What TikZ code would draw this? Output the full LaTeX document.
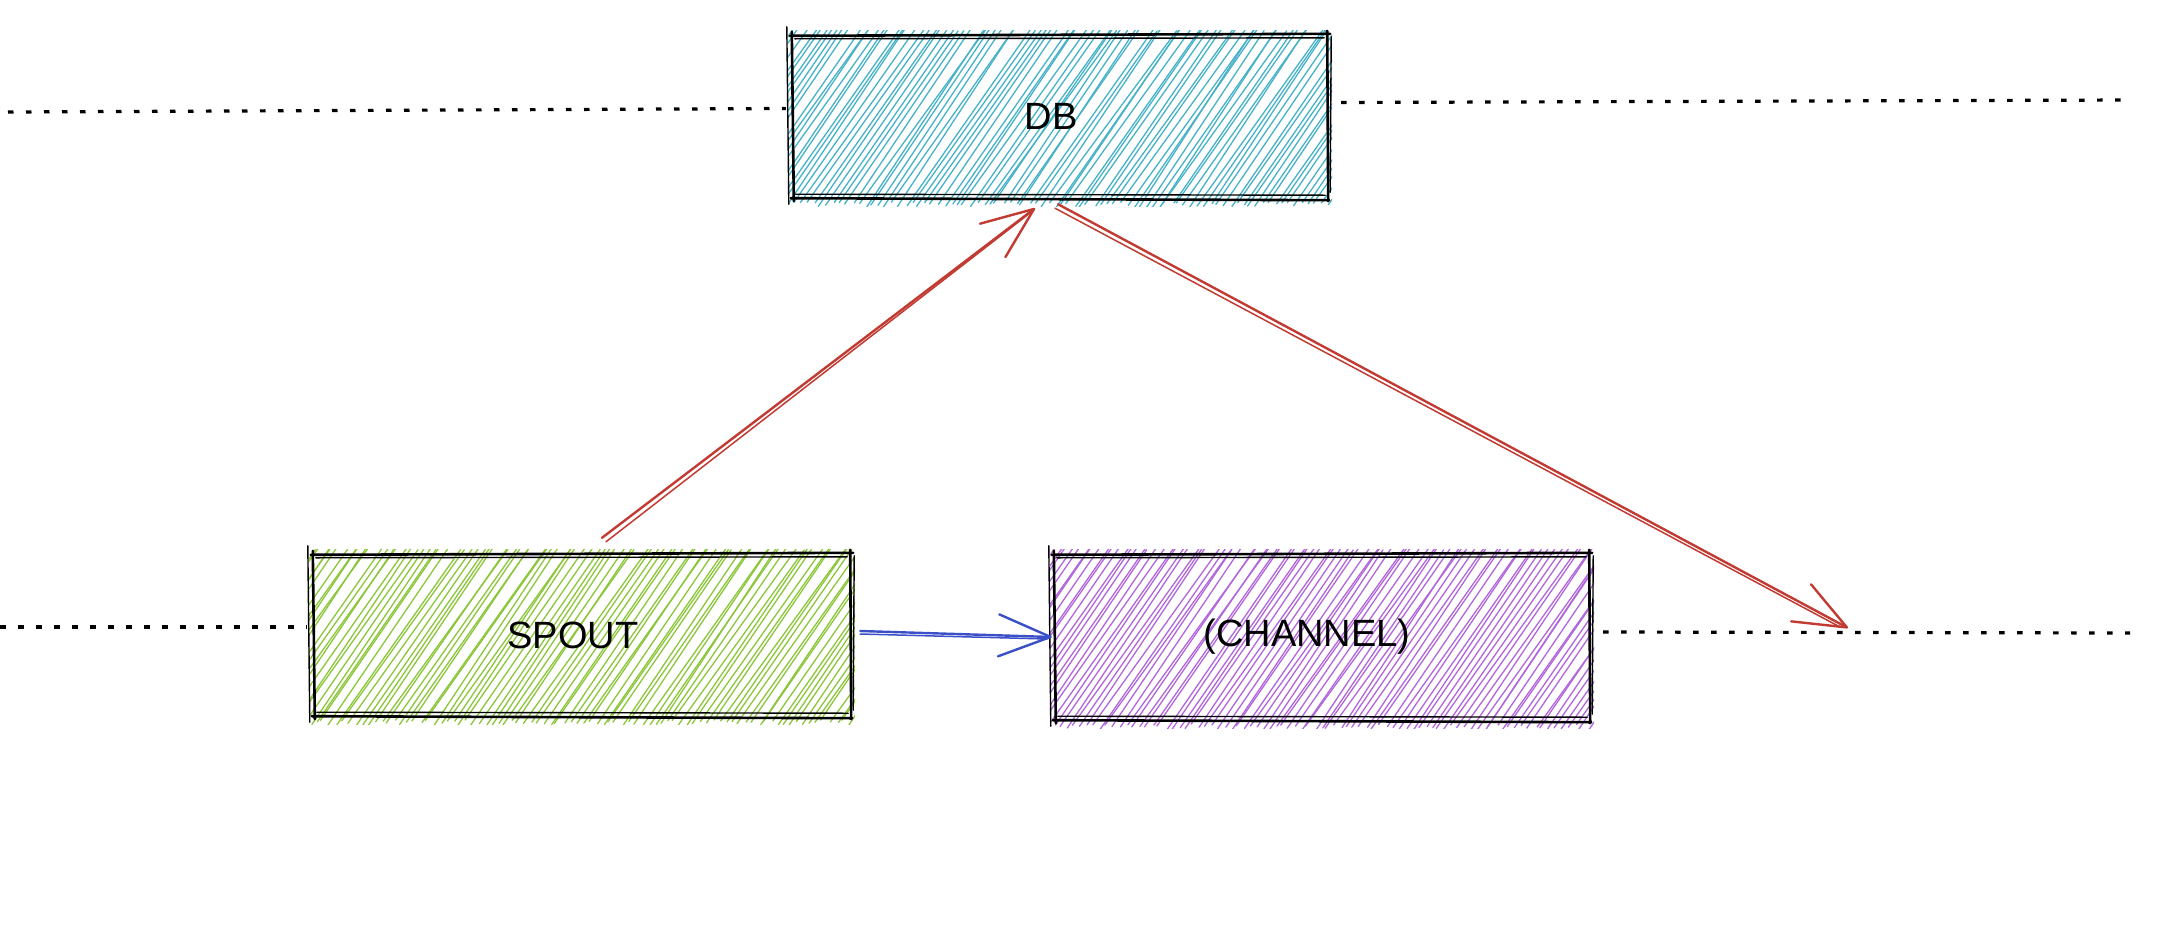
\documentclass[tikz,border=0pt]{standalone}
\usepackage{fontspec}
\setmainfont{Liberation Sans}
\usetikzlibrary{arrows.meta,calc}
\definecolor{dbfill}{HTML}{47B2C7}
\definecolor{spoutfill}{HTML}{8CC63A}
\definecolor{chanfill}{HTML}{B266DB}
\definecolor{redarrow}{HTML}{C23B32}
\definecolor{bluearrow}{HTML}{3B50C8}

\newcommand\hatchfill[5]{%
 \begin{scope}
 \clip (#1-5,#2-5) rectangle (#3+5,#4+8);
 \pgfmathsetmacro\hh{#4-#2}
 \pgfmathsetmacro\dx{(\hh+20)/1.5}
 \pgfmathsetmacro\nn{int((#3-#1+\dx)/6.5)+2}
 \foreach \i in {0,...,\nn}{
   \pgfmathsetmacro\xa{#1-\dx+\i*6.5+2.5*rand}
   \pgfmathsetmacro\xb{\xa+\dx+5*rand}
   \pgfmathsetmacro\ya{#4+4+6*rnd}
   \pgfmathsetmacro\yb{#2-4-6*rnd}
   \draw[#5, line width=1.3pt, line cap=round] (\xa,\ya) -- (\xb,\yb);
 }
 \end{scope}}

\newcommand\sketchoutline[1]{%
 \draw[edgemain] ($(#1.north west)+(-3,1)$) -- ($(#1.north east)+(3,-1)$);
 \draw[edgesub] ($(#1.north west)+(2,4)$) -- ($(#1.north east)+(-3,3)$);
 \draw[edgemain] ($(#1.south west)+(-2,0)$) -- ($(#1.south east)+(2,2)$);
 \draw[edgesub] ($(#1.south west)+(3,-4)$) -- ($(#1.south east)+(-2,-3)$);
 \draw[edgemain] ($(#1.north west)+(-1,-3)$) -- ($(#1.south west)+(1,3)$);
 \draw[edgesub] ($(#1.north west)+(-6,-8)$) -- ($(#1.south west)+(-4,6)$);
 \draw[edgemain] ($(#1.north east)+(0,-4)$) -- ($(#1.south east)+(1,3)$);
 \draw[edgesub] ($(#1.north east)+(4,2)$) -- ($(#1.south east)+(3,-6)$);
}

\tikzset{
  box/.style={rectangle, inner sep=0pt, font=\fontsize{38}{46}\selectfont},
  edgemain/.style={black, line width=2.6pt, line cap=round},
  edgesub/.style={black, line width=1.4pt, line cap=round},
  dotline/.style={black, line width=3.2pt, dash pattern=on 5.5pt off 12.5pt},
  redline/.style={redarrow, line width=2.4pt, line cap=round},
  blueline/.style={bluearrow, line width=2.4pt, line cap=round},
  tip/.style={-{Straight Barb[length=52pt,width=42pt,round]}},
}

\begin{document}
\begin{tikzpicture}[x=1pt,y=-1pt]
\useasboundingbox (0,0) rectangle (2158,948);
\pgfmathsetseed{7}

% hachure fills
\hatchfill{793}{35}{1327}{198}{dbfill}
\hatchfill{314}{554}{850}{716}{spoutfill}
\hatchfill{1055}{554}{1589}{720}{chanfill}

% boxes
\node[box, minimum width=534pt, minimum height=163pt] (db) at (1060,116.5) {\hspace*{-18pt}DB};
\node[box, minimum width=536pt, minimum height=162pt] (spout) at (582,635) {\hspace*{-18pt}SPOUT};
\node[box, minimum width=534pt, minimum height=166pt] (channel) at (1322,637) {\hspace*{-30pt}(CHANNEL)};

\sketchoutline{db}
\sketchoutline{spout}
\sketchoutline{channel}

% dotted guide lines
\coordinate (tl) at (8,112);
\coordinate (tr) at (2131,100);
\coordinate (bl) at (0,627);
\coordinate (br) at (2130,633);
\draw[dotline] (tl) -- ($(db.west)+(-7,-8)$);
\draw[dotline] ($(db.east)+(14,-14)$) -- (tr);
\draw[dotline] (bl) -- ($(spout.west)+(-7,-8)$);
\draw[dotline] ($(channel.east)+(14,-5)$) -- (br);

% red arrow spout -> db
\draw[redline, tip] ($(spout.north)+(20,-16)$) -- ($(db.south)+(-25,10)$);
\draw[redline, line width=1.5pt] ($(spout.north)+(24,-12)$) -- ($(db.south)+(-29,14)$);

% red arrow db -> right
\coordinate (r2) at (1848,628);
\draw[redline, tip] ($(db.south)+(-2,6)$) -- (r2);
\draw[redline, line width=1.5pt] ($(db.south)+(-5,10)$) -- ($(r2)+(-8,-1)$);

% blue arrow spout -> channel
\draw[blueline, tip] ($(spout.east)+(10,-4)$) -- ($(channel.west)+(-3,0)$);
\draw[blueline, line width=1.5pt] ($(spout.east)+(10,-1)$) -- ($(channel.west)+(-8,2)$);
\end{tikzpicture}
\end{document}
